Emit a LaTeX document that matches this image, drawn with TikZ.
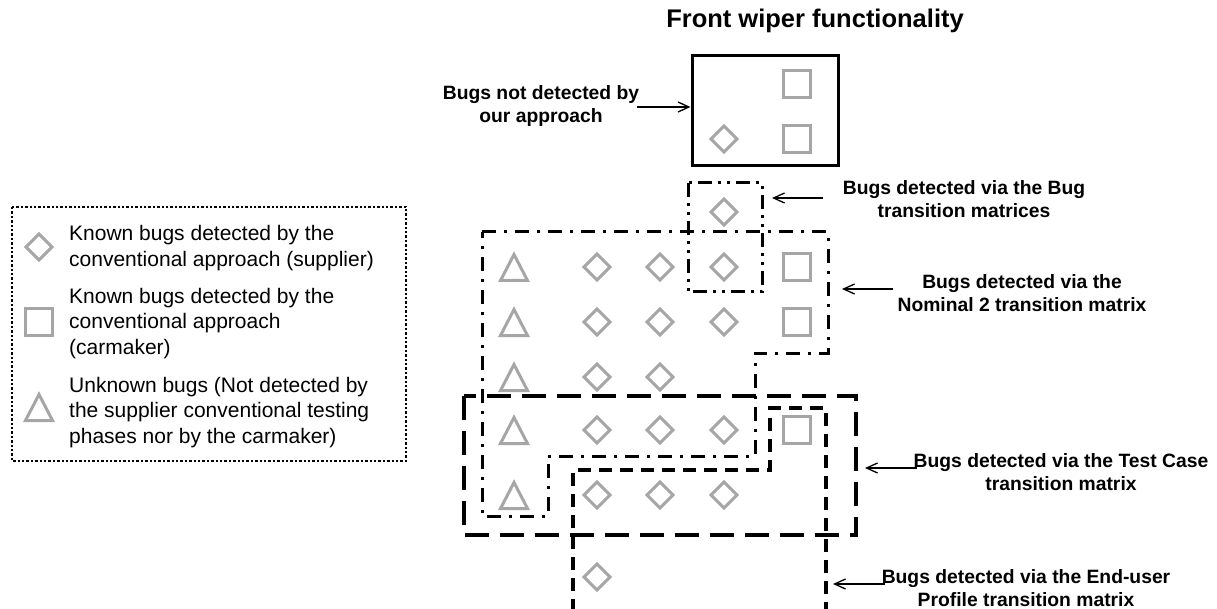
\documentclass[tikz,border=0pt]{standalone}
\usepackage{fontspec}
\setmainfont{Liberation Sans}
\usetikzlibrary{arrows.meta}
\definecolor{symgray}{RGB}{166,166,166}
\tikzset{
  sym/.style={draw=symgray,line width=3pt,line join=miter},
  dia/.pic={\draw[sym] (-13,0)--(0,-13)--(13,0)--(0,13)--cycle;},
  sqr/.pic={\draw[sym] (-13.5,-13.5) rectangle (13.5,13.5);},
  tri/.pic={\draw[sym] (0,-12.5)--(13.5,13.5)--(-13.5,13.5)--cycle;},
  solidbox/.style={draw,line width=3pt,inner sep=0pt},
  bugline/.style={line width=3pt,dash pattern=on 14pt off 6pt on 3pt off 6pt on 3pt off 6pt},
  nomline/.style={line width=3pt,dash pattern=on 14pt off 8pt on 3pt off 8pt},
  tcline/.style={line width=3.2pt,dash pattern=on 24pt off 11pt},
  euline/.style={line width=3.2pt,dash pattern=on 13pt off 8pt},
  legline/.style={line width=2.6pt,dash pattern=on 2.4pt off 2pt},
  arr/.style={-{Straight Barb[length=11pt,width=10pt]},line width=1.3pt},
  lab/.style={font=\fontsize{19.3}{23}\selectfont\bfseries,align=center,anchor=base,inner sep=0pt},
  legtext/.style={font=\fontsize{21}{25.5}\selectfont,align=left,anchor=base west,inner sep=0pt},
}
\begin{document}
\begin{tikzpicture}[x=1pt,y=-1pt]
\fill[white] (0,0) rectangle (1217,609);
\useasboundingbox (0,0) rectangle (1217,609);

% title
\node[font=\fontsize{25.5}{30}\selectfont\bfseries,anchor=base,inner sep=0pt] (title) at (815,28) {Front wiper functionality};

% top solid box
\node[solidbox,minimum width=146pt,minimum height=110pt] (topbox) at (765,111) {};
\pic at (797,84) {sqr};
\pic at (797,139) {sqr};
\pic at (724,139) {dia};

% Bug transition matrices box
\draw[bugline] (688,183) rectangle (762,292);

% Nominal 2 region
\draw[nomline] (482,232) -- (828,232) -- (828,353) -- (755,353) -- (755,456)
  -- (548,456) -- (548,516) -- (482,516) -- cycle;

% Test case region
\draw[tcline] (464,396) rectangle (856,535);

% End-user profile region
\draw[euline] (573,612) -- (573,470) -- (770,470) -- (770,408) -- (826,408) -- (826,612);

% symbols grid
\pic at (724,212) {dia};
\foreach \y in {267,322,377,430,495} { \pic at (514,\y) {tri}; }
\foreach \y in {267,322,377,430,495} { \pic at (597,\y) {dia}; \pic at (660,\y) {dia}; }
\foreach \y in {267,322,430,495} { \pic at (724,\y) {dia}; }
\foreach \y in {267,322,430} { \pic at (797,\y) {sqr}; }
\pic at (597,577) {dia};

% labels (anchor = baseline of last line)
\node[lab] (l1) at (541,123) {Bugs not detected by\\our approach};
\node[lab] (l2) at (964,218) {Bugs detected via the Bug\\transition matrices};
\node[lab] (l3) at (1022,312) {Bugs detected via the\\Nominal 2 transition matrix};
\node[lab] (l4) at (1061,490) {Bugs detected via the Test Case\\transition matrix};
\node[lab] (l5) at (1026,606) {Bugs detected via the End-user\\Profile transition matrix};

% arrows
\coordinate (a1s) at (637,107);
\coordinate (a2s) at (823,198); \coordinate (a2e) at (772,198);
\coordinate (a3s) at (893,289); \coordinate (a3e) at (842,289);
\coordinate (a4s) at (917,468); \coordinate (a4e) at (865,468);
\coordinate (a5s) at (885,584); \coordinate (a5e) at (833,584);
\draw[arr] (a1s) -- (a1s -| topbox.west);
\draw[arr] (a2s) -- (a2e);
\draw[arr] (a3s) -- (a3e);
\draw[arr] (a4s) -- (a4e);
\draw[arr] (a5s) -- (a5e);

% legend
\draw[legline] (12,207) rectangle (406,461);
\pic at (39,247) {dia};
\pic at (39,322) {sqr};
\pic at (39,407) {tri};
\node[legtext] (k1) at (69,266.5) {Known bugs detected by the\\conventional approach (supplier)};
\node[legtext] (k2) at (69,354) {Known bugs detected by the\\conventional approach\\(carmaker)};
\node[legtext] (k3) at (69,443) {Unknown bugs (Not detected by\\the supplier conventional testing\\phases nor by the carmaker)};
\end{tikzpicture}
\end{document}
